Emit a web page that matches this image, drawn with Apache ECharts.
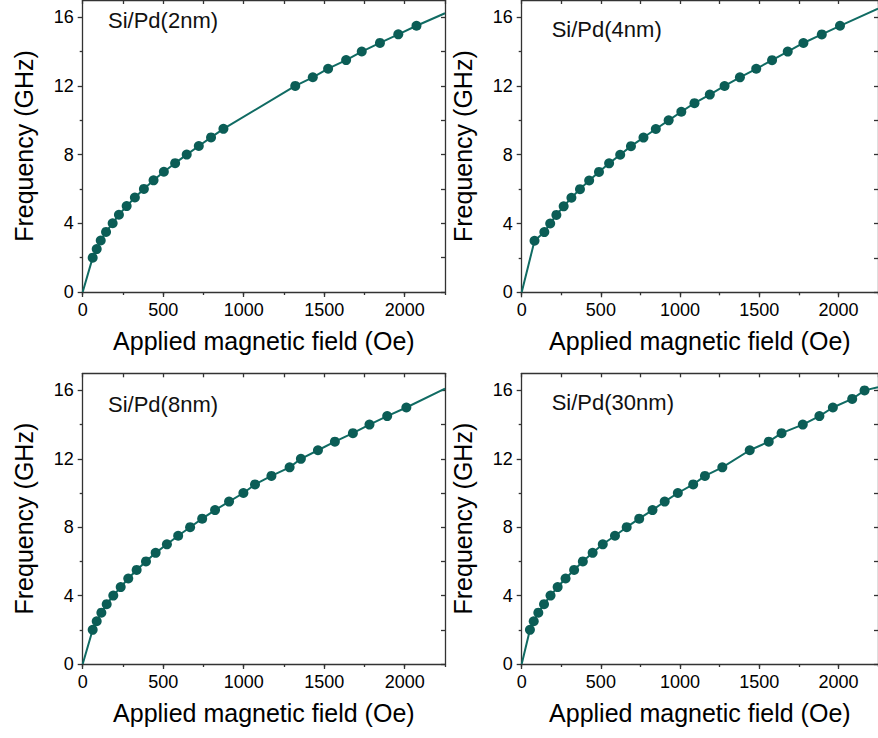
<!DOCTYPE html>
<html>
<head>
<meta charset="utf-8">
<script src="https://cdn.jsdelivr.net/npm/echarts@6/dist/echarts.min.js"></script>
<style>
html,body{margin:0;padding:0;background:#fff;}
#chart{width:878px;height:738px;}
</style>
</head>
<body>
<div id="chart"></div>
<script>
// ---- data ----
const panelLabels = ['Si/Pd(2nm)', 'Si/Pd(4nm)', 'Si/Pd(8nm)', 'Si/Pd(30nm)'];

const field2 = [62,87,112,145,186,225,273,324,380,440,504,574,646,721,797,874,1320,1429,1524,1636,1733,1846,1960,2073];
const freq2  = [2,2.5,3,3.5,4,4.5,5,5.5,6,6.5,7,7.5,8,8.5,9,9.5,12,12.5,13,13.5,14,14.5,15,15.5];

const field4 = [81,143,180,219,265,314,368,426,488,552,622,690,769,847,928,1008,1091,1188,1281,1378,1481,1581,1680,1779,1895,2010];
const freq4  = [3,3.5,4,4.5,5,5.5,6,6.5,7,7.5,8,8.5,9,9.5,10,10.5,11,11.5,12,12.5,13,13.5,14,14.5,15,15.5];

const field8 = [62,87,116,149,190,236,283,335,393,453,523,593,667,742,822,909,998,1070,1172,1285,1355,1461,1566,1678,1781,1891,2010];
const freq8  = [2,2.5,3,3.5,4,4.5,5,5.5,6,6.5,7,7.5,8,8.5,9,9.5,10,10.5,11,11.5,12,12.5,13,13.5,14,14.5,15];

const field30 = [52,76,105,141,182,227,277,331,386,448,512,589,663,742,826,903,986,1083,1157,1267,1440,1560,1641,1775,1880,1965,2087,2165];
const freq30  = [2,2.5,3,3.5,4,4.5,5,5.5,6,6.5,7,7.5,8,8.5,9,9.5,10,10.5,11,11.5,12.5,13,13.5,14,14.5,15,15.5,16];

// fitted curve: starts at origin, follows the points, ends at the right edge
const fitStart = [0, 0];
const fitEndField = 2250;
const fitEndFreq = [16.23, 16.5, 16.1, 16.18];

const xTicks = [0, 500, 1000, 1500, 2000];
const yTicks = [0, 4, 8, 12, 16];
const xMax = 2250, yMax = 17;
const xTitle = 'Applied magnetic field (Oe)';
const yTitle = 'Frequency (GHz)';

// ---- layout ----
const fields = [field2, field4, field8, field30];
const freqs = [freq2, freq4, freq8, freq30];
const grids = [
  {left: 82.7, top: 0, width: 362.3, height: 292},
  {left: 521.7, top: 0, width: 362.3, height: 292.3},
  {left: 82.7, top: 373.3, width: 362.3, height: 290.7},
  {left: 521.7, top: 373.3, width: 362.3, height: 290.7}
];
const labelPos = [[108, 9], [551.7, 18], [108, 393], [551.7, 391]];

const FONT = '"Liberation Sans", Arial, sans-serif';
const AX = '#333';
const DOT = '#0b5d56';
const LINE = '#106b63';
const plain = v => String(v);

const option = {
  animation: false,
  backgroundColor: '#fff',
  grid: [], xAxis: [], yAxis: [], series: [], graphic: []
};

for (let i = 0; i < 4; i++) {
  option.grid.push(Object.assign({containLabel: false}, grids[i]));
  const lineStyle = {color: AX, width: 1.3};
  // bottom major
  option.xAxis.push({
    type: 'value', gridIndex: i, position: 'bottom', min: 0, max: xMax, interval: 500,
    axisLine: {show: true, onZero: false, lineStyle},
    axisTick: {show: true, inside: false, length: 5, lineStyle, customValues: xTicks},
    axisLabel: {show: true, customValues: xTicks, formatter: plain, fontSize: 18, color: '#000', fontFamily: FONT, margin: 9},
    splitLine: {show: false},
    name: xTitle, nameLocation: 'middle', nameGap: 36,
    nameTextStyle: {fontSize: 25, color: '#000', fontFamily: FONT}
  });
  // bottom minor
  option.xAxis.push({
    type: 'value', gridIndex: i, position: 'bottom', min: 0, max: xMax, interval: 250,
    axisLine: {show: false, onZero: false},
    axisTick: {show: true, inside: false, length: 3, lineStyle},
    axisLabel: {show: false}, splitLine: {show: false}
  });
  // top mirror
  option.xAxis.push({
    type: 'value', gridIndex: i, position: 'top', min: 0, max: xMax, interval: 250,
    axisLine: {show: true, onZero: false, lineStyle},
    axisTick: {show: true, inside: true, length: 4, lineStyle},
    axisLabel: {show: false}, splitLine: {show: false}
  });
  // left major
  option.yAxis.push({
    type: 'value', gridIndex: i, position: 'left', min: 0, max: yMax, interval: 4,
    axisLine: {show: true, onZero: false, lineStyle},
    axisTick: {show: true, inside: false, length: 5, lineStyle, customValues: yTicks},
    axisLabel: {show: true, customValues: yTicks, formatter: plain, fontSize: 18, color: '#000', fontFamily: FONT, margin: 9},
    splitLine: {show: false},
    name: yTitle, nameLocation: 'middle', nameGap: 46, nameRotate: 90,
    nameTextStyle: {fontSize: 25, color: '#000', fontFamily: FONT}
  });
  // left minor
  option.yAxis.push({
    type: 'value', gridIndex: i, position: 'left', min: 0, max: yMax, interval: 2,
    axisLine: {show: false, onZero: false},
    axisTick: {show: true, inside: false, length: 3, lineStyle, customValues: [2, 6, 10, 14]},
    axisLabel: {show: false}, splitLine: {show: false}
  });
  // right mirror
  option.yAxis.push({
    type: 'value', gridIndex: i, position: 'right', min: 0, max: yMax, interval: 2,
    axisLine: {show: true, onZero: false, lineStyle},
    axisTick: {show: true, inside: true, length: 4, lineStyle, customValues: [0,2,4,6,8,10,12,14,16]},
    axisLabel: {show: false}, splitLine: {show: false}
  });

  const pts = fields[i].map((h, k) => [h, freqs[i][k]]);
  const fit = [fitStart].concat(pts, [[fitEndField, fitEndFreq[i]]]);
  option.series.push({
    type: 'line', xAxisIndex: i * 3, yAxisIndex: i * 3, data: fit,
    showSymbol: false, symbol: 'none', smooth: false,
    lineStyle: {color: LINE, width: 2}, z: 2, silent: true, clip: true
  });
  option.series.push({
    type: 'scatter', xAxisIndex: i * 3, yAxisIndex: i * 3, data: pts,
    symbol: 'circle', symbolSize: 10, itemStyle: {color: DOT, opacity: 1}, z: 3, silent: true
  });
  option.graphic.push({
    type: 'text', left: labelPos[i][0], top: labelPos[i][1],
    style: {text: panelLabels[i], fontSize: 22, fill: '#111', fontFamily: FONT}
  });
}

const chart = echarts.init(document.getElementById('chart'), null, {renderer: 'svg', width: 878, height: 738});
chart.setOption(option);
</script>
</body>
</html>
